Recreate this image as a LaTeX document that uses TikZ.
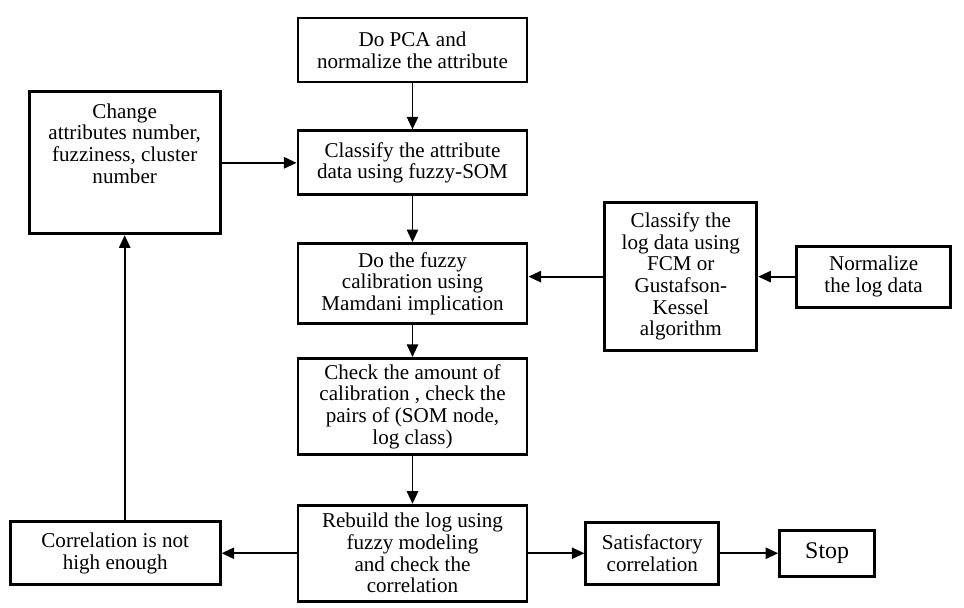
\documentclass[tikz,border=0pt]{standalone}
\usepackage{fontspec}
\setmainfont{Liberation Serif}
\usetikzlibrary{positioning, arrows.meta}

\begin{document}
\begin{tikzpicture}[
    node distance=1.15cm,
    stepbox/.style={rectangle, draw=black, line width=2pt, fill=white, inner sep=2pt, minimum width=5.725cm, align=center, font=\fontsize{15}{15.4}\selectfont},
    arrow/.style={-{Triangle[length=9pt, width=8pt]}, line width=1.4pt}
]

\useasboundingbox (0,0) rectangle (24.1,-15.175);

% Main column
\node[stepbox, minimum height=1.6cm] (pca) at (10.3125,-1.25) {Do PCA and\\normalize the attribute};
\node[stepbox, minimum height=1.6cm, below=of pca] (classify) {Classify the attribute\\data using fuzzy-SOM};
\node[stepbox, minimum height=2cm, below=of classify] (calib) {Do the fuzzy\\calibration using\\Mamdani implication};
\node[stepbox, minimum height=2.4cm, below=0.8cm of calib] (check) {Check the amount of\\calibration , check the\\pairs of (SOM node,\\log class)};
\node[stepbox, minimum height=2.4cm, below=1.2cm of check] (rebuild) {Rebuild the log using\\fuzzy modeling\\and check the\\correlation};

% Feedback loop
\node[stepbox, minimum width=4.775cm, text height=63pt, text depth=34pt, left=1.875cm of classify] (change) {Change\\attributes number,\\fuzziness, cluster\\number};
\node[stepbox, minimum width=5.25cm, minimum height=1.575cm, left=1.875cm of rebuild] (lowcorr) {Correlation is not\\high enough};

% Log data branch
\node[stepbox, minimum width=3.8cm, minimum height=3.7cm, right=1.875cm of calib, yshift=0.175cm] (logclass) {Classify the\\log data using\\FCM or\\Gustafson-\\Kessel\\algorithm};
\node[stepbox, minimum width=3.85cm, minimum height=1.525cm, right=0.925cm of logclass] (normalize) {Normalize\\the log data};

% End
\node[stepbox, minimum width=3.325cm, minimum height=1.55cm, right=1.4cm of rebuild] (goodcorr) {Satisfactory\\correlation};
\node[stepbox, minimum width=2.375cm, minimum height=1.15cm, right=1.45cm of goodcorr, font=\fontsize{17}{18}\selectfont] (stop) {Stop};

% Arrows
\draw[arrow] (pca) -- (classify);
\draw[arrow] (classify) -- (calib);
\draw[arrow] (calib) -- (check);
\draw[arrow] (check) -- (rebuild);

\draw[arrow] (change) -- (classify);
\draw[arrow] (normalize) -- (logclass);
\draw[arrow] (logclass.west) -- (logclass.west -| calib.east);

\draw[arrow] (rebuild) -- (lowcorr);
\draw[arrow] (rebuild) -- (goodcorr);
\draw[arrow] (goodcorr) -- (stop);
\draw[arrow] (lowcorr.north -| change.south) -- (change.south);

\end{tikzpicture}
\end{document}
